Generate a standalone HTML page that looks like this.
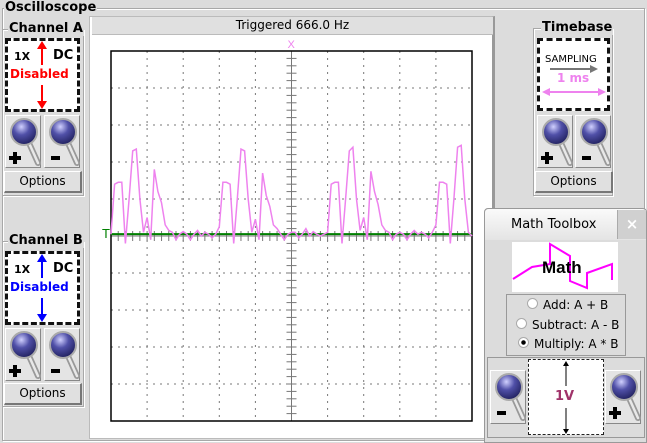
<!DOCTYPE html>
<html><head><meta charset="utf-8">
<style>
body{margin:0;width:647px;height:443px;overflow:hidden;background:#dcdcdc;font-family:"DejaVu Sans","Liberation Sans",sans-serif;position:relative}
.abs{position:absolute;box-sizing:border-box}
.grp{position:absolute;border:1px solid #a8a8a8;box-shadow:1px 1px 0 #fff inset,1px 1px 0 #fff;box-sizing:border-box}
.gt{position:absolute;background:#dcdcdc;font-weight:bold;font-size:13px;padding:0 1px;line-height:14px}
.dbox{position:absolute;background:#fff;border:3px dashed #111;box-sizing:border-box}
.btn{position:absolute;background:#e4e4e4;border:1px solid #fff;border-right-color:#888;border-bottom-color:#888;box-sizing:border-box}
.opt{position:absolute;background:#e0e0e0;border:1px solid #fff;border-right:2px solid #777;border-bottom:2px solid #777;font-size:12px;text-align:center;line-height:18px;box-sizing:border-box}
.mag{position:absolute;left:0;top:0}
</style></head><body>
<svg width="0" height="0" style="position:absolute"><defs>
<radialGradient id="lens" cx="40%" cy="30%" r="70%"><stop offset="0" stop-color="#d0d0ff"/><stop offset="0.45" stop-color="#5050a8"/><stop offset="1" stop-color="#222260"/></radialGradient>
<g id="magicon"><line x1="22" y1="26" x2="31" y2="46" stroke="#999" stroke-width="6" stroke-linecap="round"/><line x1="22" y1="26" x2="31" y2="46" stroke="#e8e8e8" stroke-width="2.5" stroke-linecap="round"/><circle cx="17" cy="15" r="13" fill="url(#lens)" stroke="#aaa" stroke-width="2"/></g>
<g id="plus"><rect x="3" y="40" width="12" height="4" fill="#000"/><rect x="7" y="36" width="4" height="12" fill="#000"/></g>
<g id="minus"><rect x="4" y="40" width="9" height="4" fill="#000"/></g>
</defs></svg>

<div class="grp" style="left:2px;top:8px;width:643px;height:433px"></div>
<div class="gt" style="left:4px;top:1px">Oscilloscope</div>

<!-- Channel A -->
<div class="grp" style="left:2px;top:29px;width:82px;height:167px"></div>
<div class="gt" style="left:8px;top:22px">Channel A</div>
<div class="dbox" style="left:5px;top:38px;width:75px;height:74px">
 <span class="abs" style="left:6px;top:9px;font-size:11px;font-weight:bold">1X</span>
 <span class="abs" style="left:45px;top:7px;font-size:13px;font-weight:bold">DC</span>
 <span class="abs" style="left:2px;top:26px;font-size:12px;font-weight:bold;color:#f00">Disabled</span>
 <svg class="abs" style="left:27px;top:0" width="14" height="70"><line x1="7" y1="6" x2="7" y2="24" stroke="#f00" stroke-width="2"/><polygon points="2,8 12,8 7,0" fill="#f00"/><line x1="7" y1="44" x2="7" y2="62" stroke="#f00" stroke-width="2"/><polygon points="2,60 12,60 7,68" fill="#f00"/></svg>
</div>
<div class="btn" style="left:5px;top:115px;width:36px;height:53px"><svg class="mag" width="36" height="52"><use href="#magicon" x="1" y="1"/><use href="#plus"/></svg></div>
<div class="btn" style="left:44px;top:115px;width:36px;height:53px"><svg class="mag" width="36" height="52"><use href="#magicon" x="1" y="1"/><use href="#minus" x="2"/></svg></div>
<div class="opt" style="left:4px;top:171px;width:78px;height:22px">Options</div>

<!-- Channel B -->
<div class="grp" style="left:2px;top:241px;width:82px;height:166px"></div>
<div class="gt" style="left:8px;top:234px">Channel B</div>
<div class="dbox" style="left:5px;top:251px;width:75px;height:74px">
 <span class="abs" style="left:6px;top:9px;font-size:11px;font-weight:bold">1X</span>
 <span class="abs" style="left:45px;top:7px;font-size:13px;font-weight:bold">DC</span>
 <span class="abs" style="left:2px;top:26px;font-size:12px;font-weight:bold;color:#00f">Disabled</span>
 <svg class="abs" style="left:27px;top:0" width="14" height="70"><line x1="7" y1="6" x2="7" y2="24" stroke="#00f" stroke-width="2"/><polygon points="2,8 12,8 7,0" fill="#00f"/><line x1="7" y1="44" x2="7" y2="62" stroke="#00f" stroke-width="2"/><polygon points="2,60 12,60 7,68" fill="#00f"/></svg>
</div>
<div class="btn" style="left:5px;top:328px;width:36px;height:53px"><svg class="mag" width="36" height="52"><use href="#magicon" x="1" y="1"/><use href="#plus"/></svg></div>
<div class="btn" style="left:44px;top:328px;width:36px;height:53px"><svg class="mag" width="36" height="52"><use href="#magicon" x="1" y="1"/><use href="#minus" x="2"/></svg></div>
<div class="opt" style="left:4px;top:383px;width:78px;height:22px">Options</div>

<!-- Scope panel -->
<div class="abs" style="left:89px;top:16px;width:406px;height:423px;background:#fff;border:1px solid #bbb;border-right:3px solid #999"></div>
<div class="abs" style="left:92px;top:17px;width:401px;height:18px;background:#e0e0e0;border-bottom:1px solid #bbb;font-size:12px;text-align:center;line-height:17px">Triggered 666.0 Hz</div>
<svg class="abs" style="left:0;top:0" width="500" height="443" id="plot"></svg>

<!-- Timebase -->
<div class="grp" style="left:533px;top:28px;width:80px;height:168px"></div>
<div class="gt" style="left:541px;top:21px">Timebase</div>
<div class="dbox" style="left:537px;top:38px;width:73px;height:73px">
 <span class="abs" style="left:5px;top:13px;font-size:10px">SAMPLING</span>
 <svg class="abs" style="left:0;top:0" width="68" height="68"><line x1="10" y1="28" x2="52" y2="28" stroke="#777" stroke-width="2"/><polygon points="50,24 58,28 50,32" fill="#777"/><line x1="4" y1="51" x2="64" y2="51" stroke="#ee82ee" stroke-width="2"/><polygon points="10,47 2,51 10,55" fill="#ee82ee"/><polygon points="58,47 66,51 58,55" fill="#ee82ee"/></svg>
 <span class="abs" style="left:17px;top:30px;font-size:12px;font-weight:bold;color:#ee82ee">1 ms</span>
</div>
<div class="btn" style="left:537px;top:115px;width:36px;height:53px"><svg class="mag" width="36" height="52"><use href="#magicon" x="1" y="1"/><use href="#plus"/></svg></div>
<div class="btn" style="left:575px;top:115px;width:36px;height:53px"><svg class="mag" width="36" height="52"><use href="#magicon" x="1" y="1"/><use href="#minus" x="2"/></svg></div>
<div class="opt" style="left:535px;top:171px;width:78px;height:22px">Options</div>

<!-- Math toolbox -->
<div class="abs" style="left:484px;top:208px;width:163px;height:235px;background:#dcdcdc;border:1px solid #999;border-radius:4px 4px 0 0"></div>
<div class="abs" style="left:485px;top:209px;width:161px;height:31px;background:linear-gradient(#fafafa,#e4e4e4);border-radius:4px 4px 0 0;font-size:13px;line-height:31px;padding-left:26px">Math Toolbox</div>
<div class="abs" style="left:617px;top:210px;width:29px;height:29px;background:#d0d0d0;border-left:1px solid #aaa;color:#fff;font-size:15px;font-weight:bold;text-align:center;line-height:28px">×</div>
<svg class="abs" style="left:512px;top:242px" width="106" height="50"><rect width="106" height="50" fill="#fff"/><polyline points="1,37 20,25 38,22 38,2 58,14 58,39 75,46 75,31 100,22 100,38" fill="none" stroke="#f0f" stroke-width="2"/><text x="30" y="31" font-family="Liberation Sans" font-weight="bold" font-size="17">Math</text></svg>
<div class="abs" style="left:506px;top:294px;width:120px;height:62px;border:1px solid #999">
 <div class="abs" style="left:20px;top:2px;font-size:12px;line-height:16px"><span style="display:inline-block;width:9px;height:9px;border-radius:50%;background:#fff;border:1px solid #aaa;margin-right:5px"></span>Add: A + B</div>
 <div class="abs" style="left:9px;top:22px;font-size:12px;line-height:16px"><span style="display:inline-block;width:9px;height:9px;border-radius:50%;background:#fff;border:1px solid #aaa;margin-right:5px"></span>Subtract: A - B</div>
 <div class="abs" style="left:11px;top:41px;font-size:12px;line-height:16px"><span style="display:inline-block;width:9px;height:9px;border-radius:50%;background:radial-gradient(#000 30%,#fff 40%);border:1px solid #aaa;margin-right:5px"></span>Multiply: A * B</div>
</div>
<div class="abs" style="left:487px;top:357px;width:158px;height:81px;border:1px solid #999"></div>
<div class="btn" style="left:490px;top:370px;width:36px;height:54px"><svg class="mag" width="36" height="52"><use href="#magicon" x="1" y="1"/><use href="#minus" x="2"/></svg></div>
<div class="abs" style="left:528px;top:359px;width:76px;height:76px;background:#fff;border:1px dashed #222">
 <svg class="abs" style="left:0;top:0" width="76" height="76"><line x1="37" y1="2" x2="37" y2="26" stroke="#000"/><polygon points="34,6 40,6 37,1" fill="#000"/><line x1="37" y1="48" x2="37" y2="73" stroke="#000"/><polygon points="34,69 40,69 37,74" fill="#000"/></svg>
 <span class="abs" style="left:26px;top:29px;font-size:13px;font-weight:bold;color:#a0336a">1V</span>
</div>
<div class="btn" style="left:605px;top:370px;width:36px;height:54px"><svg class="mag" width="36" height="52"><use href="#magicon" x="1" y="1"/><use href="#plus"/></svg></div>

<script>
// Channel A trace in divisions above centre; one sample per 0.1 time division
const samples = [0.05,1.4,1.45,1.45,-0.2,1.0,2.3,2.35,1.0,0.1,0.5,-0.1,1.8,1.2,0.9,0.3,0.15,0.1,-0.1,0.05,0.12,0.05,-0.1,0.05,0.15,0.0,0.1,0.05,-0.05,0.05,
0.25,1.45,1.45,1.4,-0.2,1.0,2.35,2.3,1.0,0.1,0.45,-0.1,1.7,1.1,0.8,0.3,0.2,0.05,-0.1,0.05,0.1,0.1,-0.05,0.05,0.2,0.0,0.12,0.05,0.0,0.05,
0.1,1.4,1.45,1.45,-0.2,1.0,2.3,2.4,1.0,0.15,0.5,-0.1,1.75,1.2,0.85,0.3,0.15,0.1,-0.1,0.05,0.1,0.05,-0.1,0.05,0.15,0.05,0.1,0.05,-0.05,0.1,
0.3,1.45,1.45,1.4,-0.2,1.0,2.4,2.45,1.0,0.1,0.0];
const timeStep = 0.1;
const triggerLevel = 0.05;
const xDivs = 10, yDivs = 10;

const svg = document.getElementById('plot');
const NS = 'http://www.w3.org/2000/svg';
const L = 111, T = 51, W = 361, H = 370;
const xS = d => L + d * W / xDivs;
const yS = v => T + H / 2 - v * H / yDivs;
function mk(tag, attrs){const e=document.createElementNS(NS,tag);for(const k in attrs)e.setAttribute(k,attrs[k]);svg.appendChild(e);return e;}

for(let i=1;i<xDivs;i++){ if(i===5)continue;
 const g=mk('line',{x1:xS(i),x2:xS(i),y1:T,y2:T+H,stroke:'#777','stroke-dasharray':'2,5'});
 
 }
for(let i=1;i<yDivs;i++){ if(i===5)continue;
 const g=mk('line',{x1:L,x2:L+W,y1:T+i*H/yDivs,y2:T+i*H/yDivs,stroke:'#777','stroke-dasharray':'2,5'});
 
 }
const cx=xS(5), cy=yS(0);
const vax=mk('line',{x1:cx,x2:cx,y1:T,y2:T+H,stroke:'#777'});


const hax=mk('line',{x1:L,x2:L+W,y1:cy,y2:cy,stroke:'#777'});


for(let i=0;i<=yDivs*5;i++){const y=T+i*H/(yDivs*5);mk('line',{x1:cx-5,x2:cx+5,y1:y,y2:y,stroke:'#777'});}
for(let i=0;i<=xDivs*5;i++){const x=L+i*W/(xDivs*5);mk('line',{x1:x,x2:x,y1:cy-5,y2:cy+5,stroke:'#777'});}

const frame=mk('rect',{x:L,y:T,width:W,height:H,fill:'none',stroke:'#000','stroke-width':1.5});



const trig=mk('line',{x1:L,x2:L+W,y1:yS(triggerLevel),y2:yS(triggerLevel),stroke:'#008000','stroke-width':2});


const tl=mk('text',{x:L-9,y:yS(triggerLevel)+4,fill:'#008000','font-size':13,'font-family':'Liberation Sans'});
tl.textContent='T';


const xm=mk('text',{x:cx-4,y:T-3,fill:'#ee82ee','font-size':11,'font-family':'Liberation Sans'});
xm.textContent='X';



let pts=[];
samples.forEach((v,i)=>{const x=xS(i*timeStep);if(x<=L+W)pts.push(x.toFixed(1)+','+yS(v).toFixed(1));});
const tr=mk('polyline',{points:pts.join(' '),fill:'none',stroke:'#ee82ee','stroke-width':1.5});


</script>
</body></html>
